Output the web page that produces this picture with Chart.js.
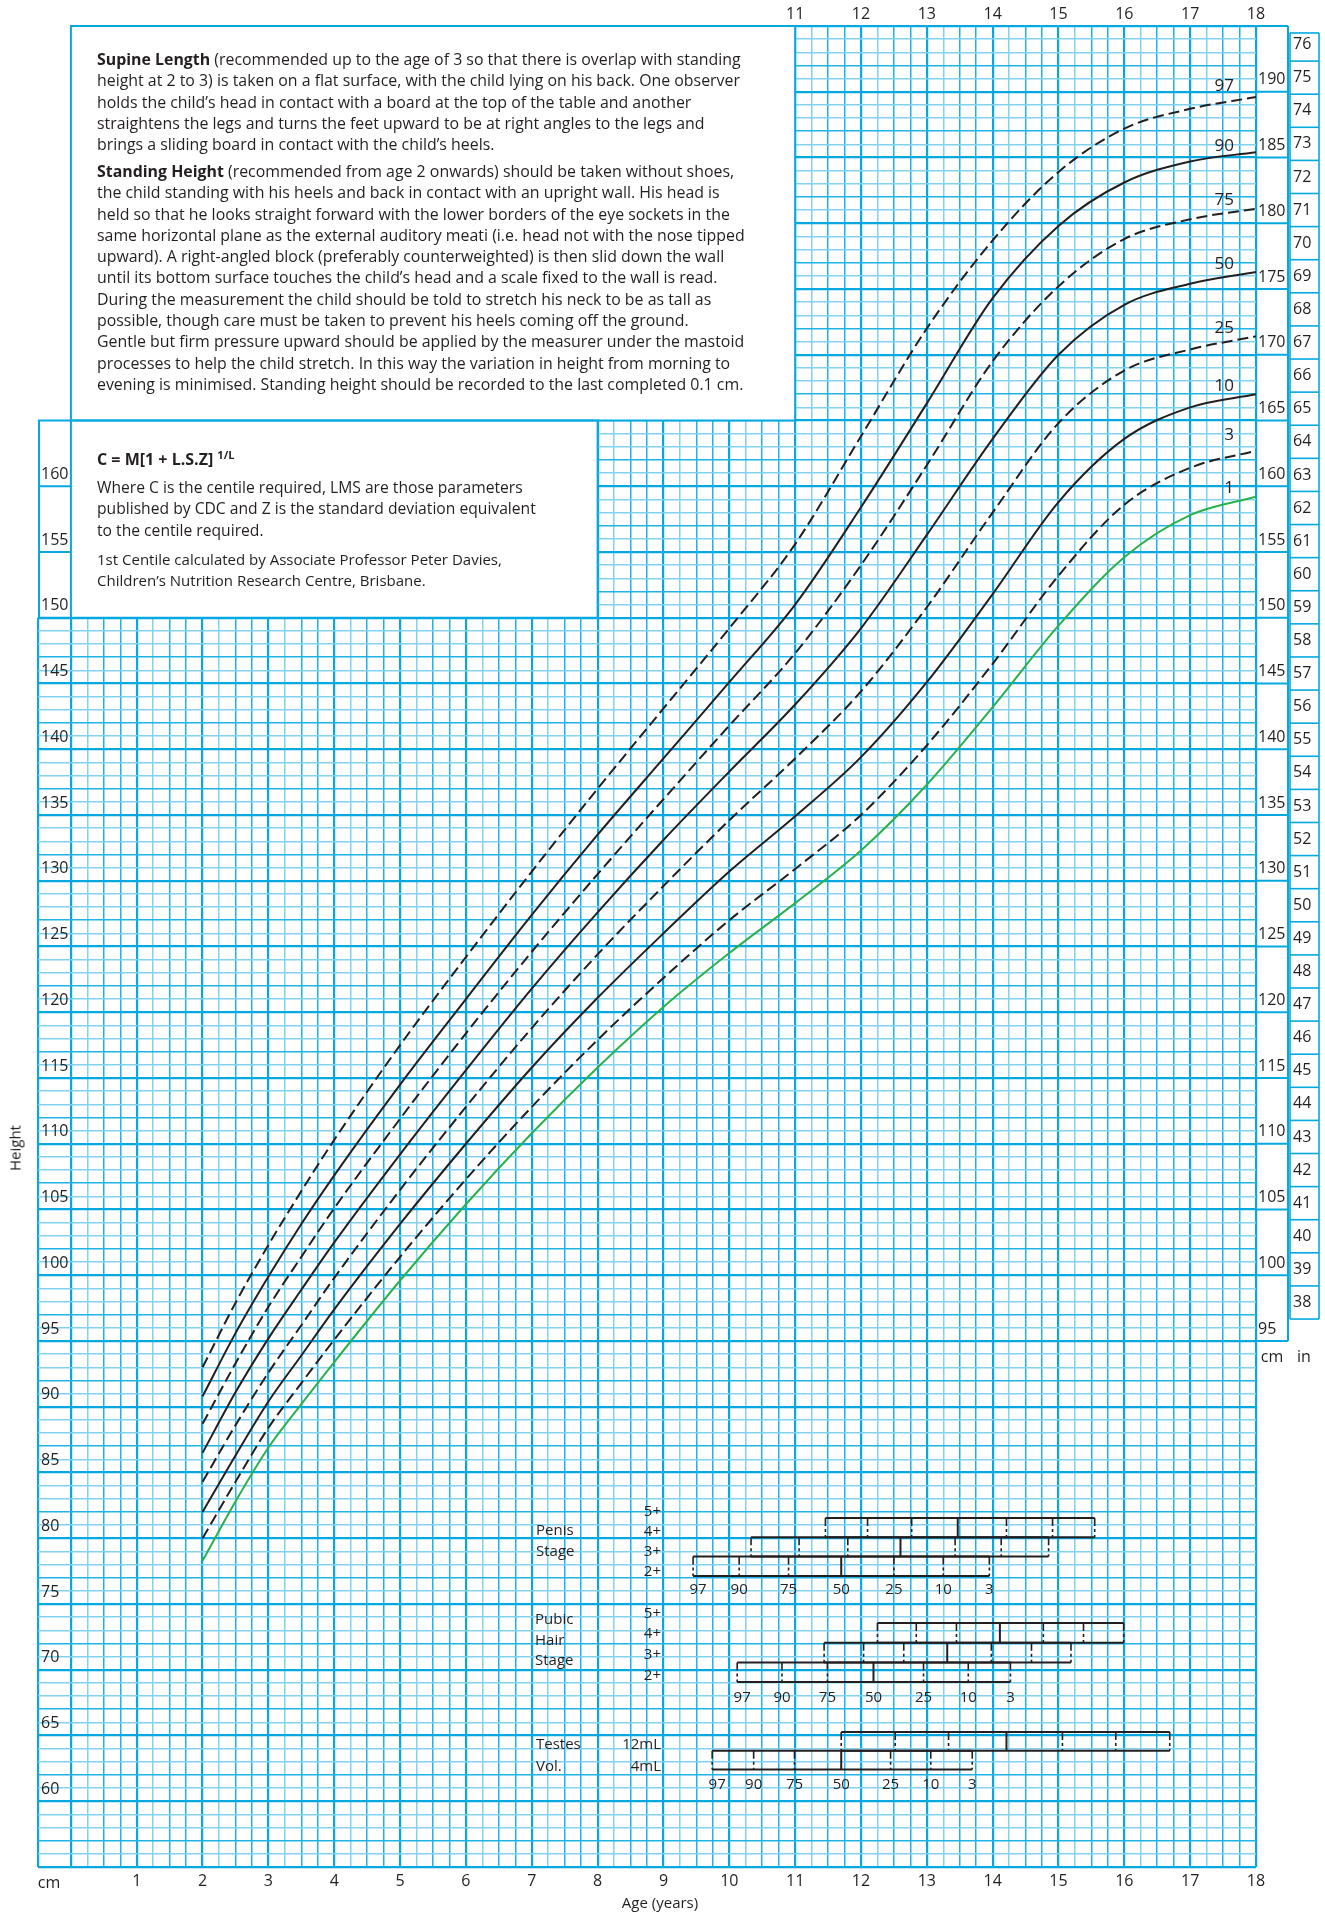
<!DOCTYPE html>
<html>
<head>
<meta charset="utf-8">
<script src="https://cdn.jsdelivr.net/npm/chart.js@4.4.1/dist/chart.umd.min.js"></script>
<style>
  body { margin: 0; background: #fff; }
  #wrap { position: relative; width: 1325px; height: 1917px; font-family: 'Open Sans', sans-serif; color: #231f20; overflow: hidden; }
  #chart { position: absolute; left: 0; top: 0; }
  .para { position: absolute; white-space: nowrap; }
  .para div { height: 21.3px; line-height: 21.3px; }
  .lbl { position: absolute; white-space: nowrap; line-height: 1; transform: translate(0, -50%); font-size: 15px; }
  .r { transform: translate(-100%, -50%); }
  .c { transform: translate(-50%, -50%); }
</style>
</head>
<body>
<div id="wrap">
  <canvas id="chart" width="1325" height="1917"></canvas>

  <div id="topText" class="para" style="left:97px; top:49px; font-size:16px;">
    <div><span class="fit"><b>Supine Length</b> (recommended up to the age of 3 so that there is overlap with standing</span></div>
    <div>height at 2 to 3) is taken on a flat surface, with the child lying on his back. One observer</div>
    <div>holds the child’s head in contact with a board at the top of the table and another</div>
    <div>straightens the legs and turns the feet upward to be at right angles to the legs and</div>
    <div>brings a sliding board in contact with the child’s heels.</div>
    <div style="margin-top:5.5px"><b>Standing Height</b> (recommended from age 2 onwards) should be taken without shoes,</div>
    <div>the child standing with his heels and back in contact with an upright wall. His head is</div>
    <div>held so that he looks straight forward with the lower borders of the eye sockets in the</div>
    <div>same horizontal plane as the external auditory meati (i.e. head not with the nose tipped</div>
    <div>upward). A right-angled block (preferably counterweighted) is then slid down the wall</div>
    <div>until its bottom surface touches the child’s head and a scale fixed to the wall is read.</div>
    <div>During the measurement the child should be told to stretch his neck to be as tall as</div>
    <div>possible, though care must be taken to prevent his heels coming off the ground.</div>
    <div>Gentle but firm pressure upward should be applied by the measurer under the mastoid</div>
    <div>processes to help the child stretch. In this way the variation in height from morning to</div>
    <div>evening is minimised. Standing height should be recorded to the last completed 0.1 cm.</div>
  </div>

  <div class="para" style="left:97px; top:449px; font-size:16px; font-weight:bold;">
    <div>C = M[1 + L.S.Z] <span style="font-size:11px; position:relative; top:-6px;">1/L</span></div>
  </div>
  <div id="formText" class="para" style="left:97px; top:477px; font-size:15px;">
    <div>Where C is the centile required, LMS are those parameters</div>
    <div><span class="fit">published by CDC and Z is the standard deviation equivalent</span></div>
    <div>to the centile required.</div>
  </div>
  <div id="creditText" class="para" style="left:97px; top:549px; font-size:14px;">
    <div><span class="fit">1st Centile calculated by Associate Professor Peter Davies,</span></div>
    <div>Children’s Nutrition Research Centre, Brisbane.</div>
  </div>

  <div class="lbl c" style="left:15px; top:1148px; transform:translate(-50%,-50%) rotate(-90deg);">Height</div>
  <div class="lbl c" style="left:49px; top:1882px; font-size:16px;">cm</div>
  <div class="lbl c" style="left:660px; top:1902px;">Age (years)</div>
  <div class="lbl c" style="left:1272px; top:1356px; font-size:16px;">cm</div>
  <div class="lbl c" style="left:1304px; top:1356px; font-size:16px;">in</div>

  <div class="lbl" style="left:536px; top:1529px;">Penis</div>
  <div class="lbl" style="left:536px; top:1550px;">Stage</div>
  <div class="lbl r" style="left:661px; top:1510px;">5+</div>
  <div class="lbl r" style="left:661px; top:1530px;">4+</div>
  <div class="lbl r" style="left:661px; top:1550px;">3+</div>
  <div class="lbl r" style="left:661px; top:1570px;">2+</div>

  <div class="lbl" style="left:535px; top:1618px;">Pubic</div>
  <div class="lbl" style="left:535px; top:1639px;">Hair</div>
  <div class="lbl" style="left:535px; top:1659px;">Stage</div>
  <div class="lbl r" style="left:661px; top:1612px;">5+</div>
  <div class="lbl r" style="left:661px; top:1632px;">4+</div>
  <div class="lbl r" style="left:661px; top:1653px;">3+</div>
  <div class="lbl r" style="left:661px; top:1674px;">2+</div>

  <div class="lbl" style="left:536px; top:1743px;">Testes</div>
  <div class="lbl" style="left:536px; top:1765px;">Vol.</div>
  <div class="lbl r" style="left:661px; top:1743px;">12mL</div>
  <div class="lbl r" style="left:661px; top:1765px;">4mL</div>
</div>

<script>
// ages (years) and centile heights (cm)
const ages = [2, 2.5, 3, 3.5, 4, 5, 6, 7, 8, 9, 10, 11, 12, 13, 14, 15, 16, 17, 18];
const centile97 = [93.0, 97.9, 102.3, 106.4, 110.3, 117.5, 124.2, 130.7, 137.0, 143.1, 149.2, 155.6, 163.8, 172.0, 178.7, 183.9, 187.2, 188.7, 189.6];
const centile90 = [90.8, 95.6, 99.9, 103.9, 107.6, 114.5, 121.0, 127.4, 133.5, 139.3, 145.1, 151.0, 158.4, 166.3, 174.3, 179.8, 183.1, 184.7, 185.4];
const centile75 = [88.7, 93.3, 97.6, 101.4, 105.1, 111.9, 118.4, 124.6, 130.5, 136.2, 141.8, 147.3, 154.0, 161.6, 169.5, 175.2, 178.8, 180.3, 181.1];
const centile50 = [86.5, 91.1, 95.2, 98.9, 102.5, 109.2, 115.6, 121.8, 127.6, 133.1, 138.3, 143.4, 149.2, 156.3, 163.6, 170.0, 173.8, 175.4, 176.3];
const centile25 = [84.3, 88.6, 92.6, 96.2, 99.8, 106.5, 112.8, 118.8, 124.4, 129.6, 134.6, 139.3, 144.4, 150.8, 158.0, 164.8, 168.8, 170.4, 171.4];
const centile10 = [82.0, 86.3, 90.4, 93.9, 97.4, 103.9, 110.0, 115.8, 121.1, 126.0, 130.7, 134.9, 139.4, 145.1, 151.8, 158.8, 163.6, 166.0, 167.0];
const centile3  = [80.0, 84.3, 88.4, 91.8, 95.1, 101.4, 107.3, 112.8, 117.9, 122.6, 127.0, 130.9, 135.0, 140.3, 146.5, 153.2, 158.6, 161.4, 162.7];
const centile1  = [78.3, 82.8, 86.9, 90.2, 93.4, 99.6, 105.4, 110.8, 115.8, 120.4, 124.5, 128.3, 132.3, 137.3, 143.2, 149.4, 154.6, 157.8, 159.2];

// puberty staging: age at the 97,90,75,50,25,10,3 centiles
const stageCentiles = ['97', '90', '75', '50', '25', '10', '3'];
const penis2 = [9.45, 10.15, 10.9, 11.7, 12.5, 13.25, 13.95];
const penis3 = [10.33, 11.06, 11.8, 12.6, 13.43, 14.13, 14.85];
const penis4 = [11.46, 12.1, 12.77, 13.47, 14.21, 14.91, 15.55];
const pubic2 = [10.12, 10.8, 11.49, 12.19, 12.95, 13.63, 14.27];
const pubic3 = [11.44, 12.04, 12.65, 13.31, 13.98, 14.59, 15.19];
const pubic4 = [12.25, 12.84, 13.45, 14.11, 14.77, 15.38, 15.99];
const testes4 = [9.74, 10.37, 10.99, 11.7, 12.45, 13.06, 13.69];
const testes12 = [11.7, 12.52, 13.33, 14.21, 15.06, 15.87, 16.69];

// tick labels
const bottomAgeLabels = [1, 2, 3, 4, 5, 6, 7, 8, 9, 10, 11, 12, 13, 14, 15, 16, 17, 18];
const topAgeLabels = [11, 12, 13, 14, 15, 16, 17, 18];
const leftCmLabels = [60, 65, 70, 75, 80, 85, 90, 95, 100, 105, 110, 115, 120, 125, 130, 135, 140, 145, 150, 155, 160];
const rightCmLabels = [95, 100, 105, 110, 115, 120, 125, 130, 135, 140, 145, 150, 155, 160, 165, 170, 175, 180, 185, 190];
const inchLabels = [38, 39, 40, 41, 42, 43, 44, 45, 46, 47, 48, 49, 50, 51, 52, 53, 54, 55, 56, 57, 58, 59, 60, 61, 62, 63, 64, 65, 66, 67, 68, 69, 70, 71, 72, 73, 74, 75, 76];

const ink = '#231f20';
const blueDark = '#05a9e0';
const blueMid = '#1fb3e6';
const blueLight = '#82d1ef';
const green = '#2bb04d';

// grid positions: quarter years, whole cm
const xGrid = [];
for (let v = -0.5; v <= 18.0001; v += 0.25) xGrid.push(Math.round(v * 100) / 100);
const yGrid = [];
for (let v = 55; v <= 195; v++) yGrid.push(v);

Chart.defaults.font.family = "'Open Sans', sans-serif";
Chart.defaults.color = ink;

const series = [
  { label: '97', values: centile97, dashed: true, color: ink, dy: -11 },
  { label: '90', values: centile90, dashed: false, color: ink, dy: -6 },
  { label: '75', values: centile75, dashed: true, color: ink, dy: -9 },
  { label: '50', values: centile50, dashed: false, color: ink, dy: -8 },
  { label: '25', values: centile25, dashed: true, color: ink, dy: -8 },
  { label: '10', values: centile10, dashed: false, color: ink, dy: -8 },
  { label: '3', values: centile3, dashed: true, color: ink, dy: -16 },
  { label: '1', values: centile1, dashed: false, color: green, dy: -9 }
];

const datasets = series.map(s => ({
  label: s.label,
  data: ages.map((a, i) => ({ x: a, y: s.values[i] })),
  borderColor: s.color,
  borderWidth: 2,
  borderDash: s.dashed ? [11, 5] : [],
  pointRadius: 0,
  fill: false,
  cubicInterpolationMode: 'monotone',
  xAxisID: 'x',
  yAxisID: 'y',
  labelDy: s.dy
}));

function line(ctx, x1, y1, x2, y2) {
  ctx.beginPath(); ctx.moveTo(x1, y1); ctx.lineTo(x2, y2); ctx.stroke();
}

const panelPlugin = {
  id: 'panels',
  beforeDatasetsDraw(chart) {
    const { ctx, scales: { x, y } } = chart;
    const X = v => x.getPixelForValue(v);
    const Y = v => y.getPixelForValue(v);
    ctx.save();
    ctx.fillStyle = '#fff';
    ctx.fillRect(X(-0.5) - 2, Y(195) - 2, X(11) - X(-0.5) + 2, Y(165) - Y(195) + 2);
    ctx.fillRect(X(-0.5) - 2, Y(165), X(8) - X(-0.5) + 2, Y(150) - Y(165));
    ctx.strokeStyle = blueDark;
    ctx.lineWidth = 2;
    ctx.strokeRect(X(0), Y(195), X(11) - X(0), Y(165) - Y(195));
    ctx.strokeRect(X(0), Y(165), X(8) - X(0), Y(150) - Y(165));
    [150, 155, 160, 165].forEach(v => line(ctx, X(-0.5), Y(v), X(0), Y(v)));
    line(ctx, X(-0.5) + 1, Y(165), X(-0.5) + 1, Y(150));
    ctx.restore();
  },
  afterDraw(chart) {
    const { ctx, scales: { x, y, yCm, yIn } } = chart;
    const X = v => x.getPixelForValue(v);
    ctx.save();

    // cm column
    ctx.strokeStyle = blueDark;
    ctx.lineWidth = 2;
    const cmR = yCm.right - 1;
    rightCmLabels.forEach(v => line(ctx, yCm.left, yCm.getPixelForValue(v), cmR, yCm.getPixelForValue(v)));
    line(ctx, yCm.left, yCm.getPixelForValue(195), cmR, yCm.getPixelForValue(195));
    line(ctx, cmR, yCm.getPixelForValue(195), cmR, yCm.getPixelForValue(95));

    // inch column
    const inL = yIn.left + 1, inR = yIn.right - 1;
    const inTop = yIn.getPixelForValue(76.85), inBot = yIn.getPixelForValue(38);
    ctx.lineWidth = 1.6;
    inchLabels.forEach(v => line(ctx, inL, yIn.getPixelForValue(v), inR, yIn.getPixelForValue(v)));
    line(ctx, inL, inTop, inR, inTop);
    line(ctx, inL, inTop, inL, inBot);
    line(ctx, inR, inTop, inR, inBot);

    // centile labels at right end of the curves
    ctx.fillStyle = ink;
    ctx.font = "17px 'Open Sans', sans-serif";
    ctx.textAlign = 'right';
    ctx.textBaseline = 'middle';
    chart.data.datasets.forEach(ds => {
      const last = ds.data[ds.data.length - 1];
      ctx.fillText(ds.label, X(18) - 22, y.getPixelForValue(last.y) + ds.labelDy);
    });

    // puberty stage boxes
    const groups = [
      { rows: [penis4, penis3, penis2], top: 1518, h: 19.3, labelY: 1590 },
      { rows: [pubic4, pubic3, pubic2], top: 1623, h: 19.7, labelY: 1698 },
      { rows: [testes12, testes4], top: 1732, h: 18.8, labelY: 1785 }
    ];
    ctx.strokeStyle = ink;
    groups.forEach(g => {
      g.rows.forEach((row, r) => {
        const t = g.top + r * g.h, b = t + g.h;
        ctx.lineWidth = 2;
        ctx.setLineDash([]);
        line(ctx, X(row[0]), t, X(row[6]), t);
        line(ctx, X(row[0]), b, X(row[6]), b);
        row.forEach((a, i) => {
          if (i === 3) { ctx.setLineDash([]); ctx.lineWidth = 2; }
          else { ctx.setLineDash([8, 3, 3, 3]); ctx.lineWidth = 1.6; }
          line(ctx, X(a), t, X(a), b);
        });
      });
      ctx.setLineDash([]);
      const bottomRow = g.rows[g.rows.length - 1];
      ctx.font = "15px 'Open Sans', sans-serif";
      ctx.textAlign = 'center';
      bottomRow.forEach((a, i) => ctx.fillText(stageCentiles[i], X(a) + (i === 0 ? 5 : 0), g.labelY));
    });
    ctx.restore();
  }
};

function gridX(v) { return v > -0.5 && v < 0; }

const chart = new Chart(document.getElementById('chart'), {
  type: 'line',
  data: { datasets },
  options: {
    responsive: false,
    animation: false,
    events: [],
    layout: { padding: { left: 0, right: 5, top: 0, bottom: 0 } },
    plugins: { legend: { display: false }, tooltip: { enabled: false } },
    scales: {
      x: {
        type: 'linear', position: 'bottom', min: -0.5, max: 18,
        afterBuildTicks: s => { s.ticks = xGrid.map(v => ({ value: v })); },
        afterFit: s => { s.height = 50; },
        border: { display: false },
        grid: {
          drawTicks: false,
          color: c => {
            const v = c.tick.value;
            if (gridX(v)) return 'rgba(0,0,0,0)';
            if (Number.isInteger(v) || v === -0.5) return blueDark;
            return (v - Math.floor(v)) === 0.25 ? blueLight : blueMid;
          },
          lineWidth: c => {
            const v = c.tick.value;
            return (Number.isInteger(v) || v === -0.5) ? 2.2 : 1.5;
          }
        },
        ticks: {
          autoSkip: false, maxRotation: 0, padding: 5, font: { size: 16 },
          callback: v => bottomAgeLabels.includes(v) ? String(v) : ''
        }
      },
      xTop: {
        type: 'linear', position: 'top', min: -0.5, max: 18,
        afterBuildTicks: s => { s.ticks = topAgeLabels.map(v => ({ value: v })); },
        afterFit: s => { s.height = 26; },
        border: { display: false },
        grid: { display: false, drawTicks: false },
        ticks: { autoSkip: false, maxRotation: 0, padding: 2, font: { size: 16 } }
      },
      y: {
        type: 'linear', position: 'left', min: 55, max: 195,
        afterBuildTicks: s => { s.ticks = yGrid.map(v => ({ value: v })); },
        afterFit: s => { s.width = 38; },
        border: { display: false },
        grid: {
          drawTicks: false,
          color: c => {
            const v = c.tick.value;
            if (v % 5 === 0) return blueDark;
            return v % 5 === 2 ? blueMid : blueLight;
          },
          lineWidth: c => c.tick.value % 5 === 0 ? 2.2 : 1.5
        },
        ticks: {
          autoSkip: false, mirror: true, padding: 3, labelOffset: -12, z: 1, font: { size: 16 },
          callback: v => leftCmLabels.includes(v) ? String(v) : ''
        }
      },
      yCm: {
        type: 'linear', position: 'right', min: 55, max: 195, weight: 0,
        afterBuildTicks: s => { s.ticks = rightCmLabels.map(v => ({ value: v })); },
        afterFit: s => { s.width = 33; },
        border: { display: false },
        grid: { display: false, drawTicks: false },
        ticks: { autoSkip: false, padding: 2, labelOffset: -12, font: { size: 16 } }
      },
      yIn: {
        type: 'linear', position: 'right', min: 21.447, max: 77.06, weight: 1,
        afterBuildTicks: s => { s.ticks = inchLabels.map(v => ({ value: v })); },
        afterFit: s => { s.width = 31; },
        border: { display: false },
        grid: { display: false, drawTicks: false },
        ticks: { autoSkip: false, padding: 4, labelOffset: -16.5, font: { size: 16 } }
      }
    }
  },
  plugins: [panelPlugin]
});

// fit paragraph font sizes to the widths of the printed lines
function fitText(id, targetWidth) {
  const box = document.getElementById(id);
  const span = box.querySelector('.fit');
  const w = span.getBoundingClientRect().width;
  const fs = parseFloat(getComputedStyle(box).fontSize);
  box.style.fontSize = (fs * targetWidth / w).toFixed(2) + 'px';
}
fitText('topText', 644);
fitText('formText', 439);
fitText('creditText', 405);
</script>
</body>
</html>
